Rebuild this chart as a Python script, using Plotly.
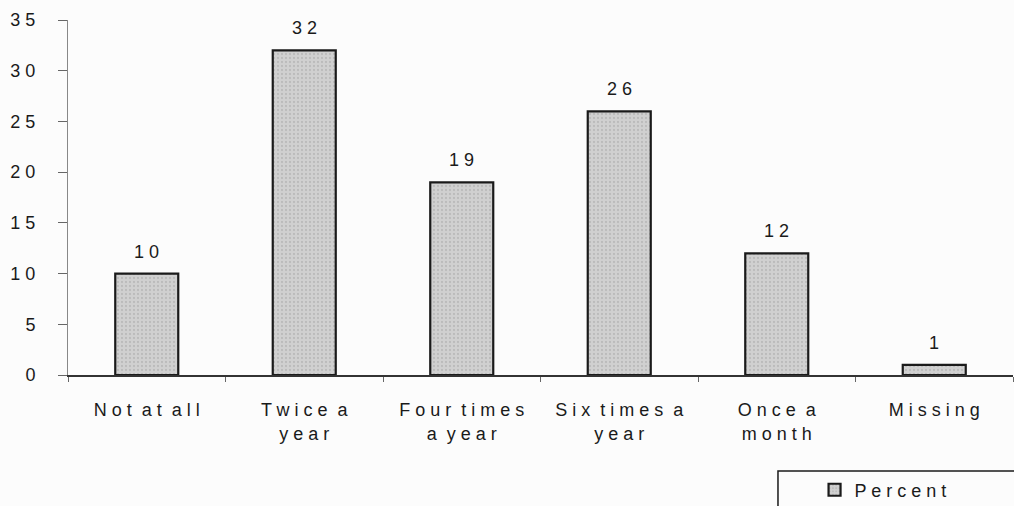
import plotly.graph_objects as go

categories = ["Not at all", "Twice a\nyear", "Four times\na year", "Six times a\nyear", "Once a\nmonth", "Missing"]
percent = [10, 32, 19, 26, 12, 1]
y_ticks = [0, 5, 10, 15, 20, 25, 30, 35]

LETTER_GAP = " "               # plain space between letters
WORD_GAP = " \u00a0"           # wider, non-collapsing gap between words
FONT = "Liberation Sans, Arial"
TEXT_COLOR = "#1a1a1a"


def spaced(s):
    lines = []
    for line in s.split("\n"):
        words = [LETTER_GAP.join(list(w)) for w in line.split(" ")]
        lines.append(WORD_GAP.join(words))
    return "<br>".join(lines)


x_labels = [spaced(c) for c in categories]

fig = go.Figure()
fig.add_trace(go.Bar(
    x=x_labels,
    y=percent,
    name=spaced("Percent"),
    width=0.4,
    marker=dict(
        color="#d0d0d0",
        line=dict(color="#1a1a1a", width=2.2),
        pattern=dict(shape=".", fgcolor="#a5a5a5", size=4, solidity=0.25),
    ),
))

# value labels above each bar
for cat, val in zip(x_labels, percent):
    fig.add_annotation(
        x=cat, y=val, text=spaced(str(val)),
        showarrow=False, yanchor="bottom", yshift=10,
        font=dict(family=FONT, size=18, color=TEXT_COLOR),
    )

fig.update_layout(
    width=1014, height=506,
    margin=dict(l=68, r=1, t=20, b=131, autoexpand=False),
    paper_bgcolor="#fcfcfc",
    plot_bgcolor="#fcfcfc",
    font=dict(family=FONT, size=18, color=TEXT_COLOR),
    showlegend=True,
    legend=dict(
        x=0.79, y=-0.272, xanchor="left", yanchor="top",
        bgcolor="rgba(0,0,0,0)", borderwidth=0,
        font=dict(size=18),
        itemwidth=30,
    ),
    shapes=[dict(
        type="rect", xref="paper", yref="paper",
        x0=0.7513, x1=1.01, y0=-0.40, y1=-0.2705,
        line=dict(color="#1a1a1a", width=1.5), fillcolor="rgba(0,0,0,0)",
    )],
)

fig.update_xaxes(
    showline=True, linecolor="#333333", linewidth=1.5,
    ticks="outside", tickson="boundaries", ticklen=5, tickcolor="#666666",
    ticklabelstandoff=18,
    showgrid=False, zeroline=False,
)
fig.update_yaxes(
    range=[0, 35],
    tickvals=y_ticks,
    ticktext=[spaced(str(t)) for t in y_ticks],
    showline=True, linecolor="#888888", linewidth=1,
    ticks="outside", ticklen=9, tickcolor="#666666",
    ticklabelstandoff=19,
    showgrid=False, zeroline=False,
)

fig.write_html("out.html")
